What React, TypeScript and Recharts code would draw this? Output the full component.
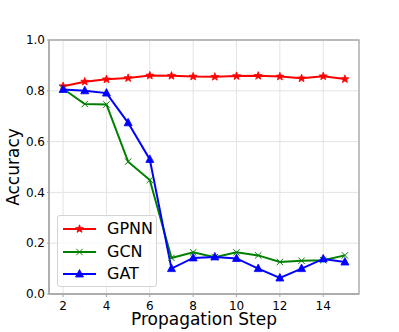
import React from 'react';
import {
  LineChart,
  Line,
  XAxis,
  YAxis,
  CartesianGrid,
  Legend,
  ReferenceArea,
} from 'recharts';

const steps = [2, 3, 4, 5, 6, 7, 8, 9, 10, 11, 12, 13, 14, 15];
const gpnnAcc = [0.818, 0.836, 0.845, 0.85, 0.86, 0.859, 0.856, 0.855, 0.858, 0.859, 0.856, 0.849, 0.857, 0.846];
const gcnAcc = [0.808, 0.748, 0.746, 0.521, 0.449, 0.142, 0.164, 0.145, 0.164, 0.152, 0.126, 0.131, 0.133, 0.152];
const gatAcc = [0.805, 0.8, 0.791, 0.674, 0.53, 0.1, 0.142, 0.146, 0.14, 0.1, 0.063, 0.1, 0.138, 0.126];

const xTicks = [2, 4, 6, 8, 10, 12, 14];
const yTicks = [0, 0.2, 0.4, 0.6, 0.8, 1.0];

const FONT = '"DejaVu Sans", sans-serif';

const tableData = steps.map((s, i) => ({
  step: s,
  GPNN: gpnnAcc[i],
  GCN: gcnAcc[i],
  GAT: gatAcc[i],
}));

const starPath = (cx: number, cy: number, r: number) => {
  const pts: string[] = [];
  for (let i = 0; i < 10; i++) {
    const rad = i % 2 === 0 ? r : r * 0.42;
    const a = -Math.PI / 2 + (i * Math.PI) / 5;
    pts.push(`${cx + rad * Math.cos(a)},${cy + rad * Math.sin(a)}`);
  }
  return `M${pts.join('L')}Z`;
};

const StarDot = (props: any) => {
  const { cx, cy, index } = props;
  if (cx == null || cy == null) return null;
  return <path key={`s-${index}`} d={starPath(cx, cy, 4.2)} fill="#ff0000" stroke="#ff0000" strokeWidth={0.8} />;
};

const CrossDot = (props: any) => {
  const { cx, cy, index } = props;
  if (cx == null || cy == null) return null;
  const r = 3.2;
  return (
    <g key={`c-${index}`} stroke="#008000" strokeWidth={1}>
      <line x1={cx - r} y1={cy - r} x2={cx + r} y2={cy + r} />
      <line x1={cx - r} y1={cy + r} x2={cx + r} y2={cy - r} />
    </g>
  );
};

const TriDot = (props: any) => {
  const { cx, cy, index } = props;
  if (cx == null || cy == null) return null;
  return (
    <polygon
      key={`t-${index}`}
      points={`${cx},${cy - 4.5} ${cx + 4},${cy + 3} ${cx - 4},${cy + 3}`}
      fill="#0000ff"
      stroke="#0000ff"
      strokeWidth={0.8}
    />
  );
};

const legendItems = [
  { name: 'GPNN', color: '#ff0000', marker: 'star' },
  { name: 'GCN', color: '#008000', marker: 'cross' },
  { name: 'GAT', color: '#0000ff', marker: 'tri' },
];

const LegendBox = () => (
  <div
    style={{
      position: 'relative',
      width: 100,
      height: 72,
      boxSizing: 'border-box',
      border: '1px solid #d4d4d4',
      borderRadius: 3,
      background: 'rgba(255,255,255,0.8)',
      fontFamily: FONT,
      fontSize: 16,
    }}
  >
    {legendItems.map((item, i) => {
      const cy = 13 + i * 22.6;
      return (
        <div key={item.name} style={{ position: 'absolute', left: 0, top: cy - 10, height: 20, width: 100 }}>
          <svg width={40} height={20} style={{ position: 'absolute', left: 4, top: 0 }}>
            <line x1={1} y1={10} x2={34} y2={10} stroke={item.color} strokeWidth={2} />
            {item.marker === 'star' && <StarDot cx={17.5} cy={10} index={i} />}
            {item.marker === 'cross' && <CrossDot cx={17.5} cy={10} index={i} />}
            {item.marker === 'tri' && <TriDot cx={17.5} cy={10} index={i} />}
          </svg>
          <span style={{ position: 'absolute', left: 49, top: 0, lineHeight: '20px', color: '#000' }}>{item.name}</span>
        </div>
      );
    })}
  </div>
);

export default function App() {
  return (
    <div style={{ position: 'absolute', left: 0, top: 0, width: 399, height: 332, background: '#fff' }}>
      <LineChart
        width={399}
        height={332}
        data={tableData}
        margin={{ top: 40, right: 40, bottom: 0, left: 0 }}
      >
        <CartesianGrid stroke="#e3e3e3" strokeWidth={1} />
        <XAxis
          dataKey="step"
          type="number"
          domain={[1.35, 15.65]}
          ticks={xTicks}
          allowDataOverflow
          height={38}
          axisLine={{ stroke: '#a8a8a8', strokeWidth: 1.3 }}
          tickLine={{ stroke: '#a8a8a8' }}
          tickSize={3}
          tickMargin={4}
          tick={{ fill: '#000', fontSize: 12, fontFamily: FONT }}
          label={{
            value: 'Propagation Step',
            position: 'insideBottom',
            offset: 7,
            style: { fill: '#000', fontSize: 17, fontFamily: FONT },
          }}
        />
        <YAxis
          type="number"
          domain={[0, 1]}
          ticks={yTicks}
          width={49}
          axisLine={{ stroke: '#a8a8a8', strokeWidth: 1.3 }}
          tickLine={{ stroke: '#a8a8a8' }}
          tickSize={2}
          tickMargin={2}
          tickFormatter={(v: number) => v.toFixed(1)}
          tick={{ fill: '#000', fontSize: 12, fontFamily: FONT }}
          label={{
            value: 'Accuracy',
            angle: -90,
            position: 'insideLeft',
            offset: 13,
            style: { fill: '#000', fontSize: 17, fontFamily: FONT, textAnchor: 'middle' },
          }}
        />
        <ReferenceArea
          x1={1.35}
          x2={15.65}
          y1={0}
          y2={1}
          fill="none"
          stroke="#a8a8a8"
          strokeWidth={1.3}
          ifOverflow="visible"
        />
        <Line
          dataKey="GPNN"
          stroke="#ff0000"
          strokeWidth={2}
          dot={StarDot}
          activeDot={false}
          isAnimationActive={false}
        />
        <Line
          dataKey="GCN"
          stroke="#008000"
          strokeWidth={2}
          dot={CrossDot}
          activeDot={false}
          isAnimationActive={false}
        />
        <Line
          dataKey="GAT"
          stroke="#0000ff"
          strokeWidth={2}
          dot={TriDot}
          activeDot={false}
          isAnimationActive={false}
        />
        <Legend
          layout="vertical"
          align="center"
          verticalAlign="middle"
          content={() => <LegendBox />}
          wrapperStyle={{ left: 57, top: 215, width: 100, height: 72 }}
        />
      </LineChart>
    </div>
  );
}
